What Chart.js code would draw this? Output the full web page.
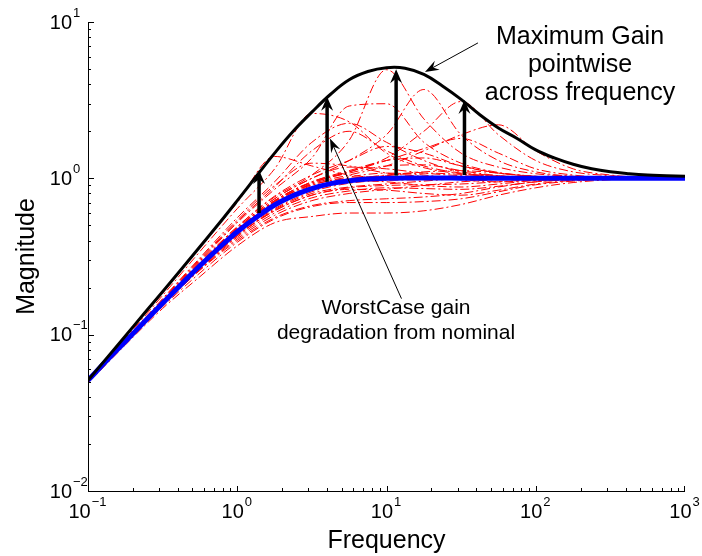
<!DOCTYPE html>
<html>
<head>
<meta charset="utf-8">
<script src="https://cdn.jsdelivr.net/npm/chart.js@4.4.1/dist/chart.umd.min.js"></script>
<style>
  html, body { margin: 0; padding: 0; background: #fff; }
  canvas { display: block; }
</style>
</head>
<body>
<canvas id="chartGain" width="702" height="556"></canvas>
<script>
// ============= DATA =============
// fine grid (1/8 decade) for the two thick curves
const freqFine = [0.1, 0.133, 0.178, 0.237, 0.316, 0.422, 0.562, 0.75, 1, 1.33, 1.78, 2.37, 3.16, 4.22, 5.62, 7.5,
  10, 13.3, 17.8, 23.7, 31.6, 42.2, 56.2, 75, 100, 133, 178, 237, 316, 422, 562, 750, 1000];
const maxGain = [0.051, 0.0705, 0.098, 0.136, 0.188, 0.262, 0.365, 0.51, 0.72, 1.02, 1.45, 2.0, 2.65, 3.45, 4.27, 4.82,
  5.1, 5.06, 4.62, 3.9, 3.2, 2.55, 2.1, 1.8, 1.52, 1.35, 1.23, 1.15, 1.1, 1.07, 1.05, 1.04, 1.03];
const nominal = [0.051, 0.068, 0.0905, 0.12, 0.159, 0.21, 0.276, 0.357, 0.455, 0.56, 0.675, 0.775, 0.86, 0.925, 0.965, 0.99,
  1.0, 1.005, 1.005, 1.005, 1.003, 1.0, 1.0, 1.0, 1.0, 1.0, 1.0, 1.0, 1.0, 1.0, 1.0, 1.0, 1.0];

// coarse grid (1/4 decade) for the sampled responses
const freqCoarse = [0.1, 0.178, 0.316, 0.562, 1, 1.78, 3.16, 5.62, 10, 17.8, 31.6, 56.2, 100, 178, 316, 562, 1000];
const samples = [
  [0.051, 0.092, 0.165, 0.29, 0.49, 0.76, 1.05, 1.75, 4.95, 2.4, 1.45, 1.18, 1.07, 1.03, 1.01, 1.0, 1.0],
  [0.052, 0.095, 0.178, 0.34, 0.64, 1.15, 2.6, 2.3, 1.45, 1.17, 1.07, 1.03, 1.01, 1.0, 1.0, 1.0, 1.0],
  [0.051, 0.091, 0.162, 0.28, 0.47, 0.71, 0.93, 1.1, 1.35, 2.0, 3.1, 1.9, 1.3, 1.1, 1.04, 1.01, 1.0],
  [0.052, 0.097, 0.185, 0.36, 0.7, 1.38, 1.2, 1.05, 1.01, 1.0, 1.0, 1.0, 1.0, 1.0, 1.0, 1.0, 1.0],
  [0.051, 0.092, 0.165, 0.295, 0.52, 0.85, 1.35, 2.9, 3.0, 1.7, 1.25, 1.09, 1.03, 1.01, 1.0, 1.0, 1.0],
  [0.051, 0.091, 0.162, 0.285, 0.48, 0.74, 1.0, 1.3, 1.9, 3.7, 1.9, 1.3, 1.1, 1.03, 1.01, 1.0, 1.0],
  [0.051, 0.092, 0.166, 0.3, 0.53, 0.88, 1.5, 2.0, 1.5, 1.2, 1.08, 1.03, 1.01, 1.0, 1.0, 1.0, 1.0],
  [0.051, 0.09, 0.16, 0.278, 0.465, 0.7, 0.92, 1.05, 1.2, 1.5, 1.9, 2.2, 1.5, 1.15, 1.05, 1.01, 1.0],
  [0.051, 0.091, 0.163, 0.288, 0.49, 0.77, 1.05, 1.3, 1.6, 1.45, 1.2, 1.08, 1.03, 1.01, 1.0, 1.0, 1.0],
  [0.051, 0.09, 0.16, 0.28, 0.47, 0.72, 0.95, 1.12, 1.3, 1.35, 1.2, 1.08, 1.03, 1.01, 1.0, 1.0, 1.0],
  [0.051, 0.091, 0.162, 0.284, 0.48, 0.74, 1.0, 1.18, 1.15, 1.08, 1.04, 1.02, 1.01, 1.0, 1.0, 1.0, 1.0],
  [0.051, 0.09, 0.158, 0.272, 0.45, 0.67, 0.86, 0.98, 1.05, 1.1, 1.12, 1.08, 1.03, 1.01, 1.0, 1.0, 1.0],
  [0.05, 0.089, 0.155, 0.26, 0.41, 0.58, 0.72, 0.8, 0.85, 0.9, 0.95, 0.98, 0.99, 1.0, 1.0, 1.0, 1.0],
  [0.049, 0.086, 0.147, 0.235, 0.37, 0.52, 0.57, 0.6, 0.6, 0.62, 0.68, 0.78, 0.87, 0.94, 0.98, 1.0, 1.0],
  [0.05, 0.089, 0.154, 0.258, 0.4, 0.56, 0.67, 0.72, 0.74, 0.76, 0.8, 0.88, 0.95, 0.98, 0.99, 1.0, 1.0],
  [0.051, 0.09, 0.157, 0.268, 0.43, 0.62, 0.78, 0.87, 0.9, 0.91, 0.92, 0.95, 0.98, 0.99, 1.0, 1.0, 1.0],
  [0.051, 0.09, 0.157, 0.27, 0.44, 0.64, 0.82, 0.93, 0.97, 0.98, 0.99, 0.99, 1.0, 1.0, 1.0, 1.0, 1.0],
  [0.05, 0.089, 0.155, 0.262, 0.42, 0.6, 0.75, 0.83, 0.87, 0.86, 0.85, 0.89, 0.95, 0.98, 1.0, 1.0, 1.0],
  [0.051, 0.091, 0.16, 0.276, 0.46, 0.69, 0.88, 0.97, 0.95, 0.9, 0.88, 0.92, 0.97, 0.99, 1.0, 1.0, 1.0],
  [0.051, 0.09, 0.159, 0.275, 0.455, 0.69, 0.9, 1.02, 1.08, 1.05, 0.98, 0.95, 0.97, 0.99, 1.0, 1.0, 1.0],
  [0.05, 0.089, 0.156, 0.265, 0.43, 0.63, 0.8, 0.88, 0.92, 0.96, 1.0, 1.03, 1.02, 1.01, 1.0, 1.0, 1.0],
  [0.051, 0.091, 0.161, 0.28, 0.47, 0.72, 0.94, 1.08, 1.2, 1.22, 1.12, 1.04, 1.01, 1.0, 1.0, 1.0, 1.0],
  [0.051, 0.093, 0.17, 0.31, 0.56, 0.95, 1.7, 2.25, 1.7, 1.3, 1.1, 1.04, 1.01, 1.0, 1.0, 1.0, 1.0],
  [0.051, 0.09, 0.16, 0.279, 0.47, 0.72, 0.95, 1.1, 1.3, 1.55, 1.8, 1.45, 1.15, 1.05, 1.01, 1.0, 1.0],
  [0.05, 0.088, 0.151, 0.248, 0.39, 0.55, 0.66, 0.7, 0.7, 0.71, 0.74, 0.82, 0.91, 0.96, 0.99, 1.0, 1.0],
  [0.05, 0.089, 0.156, 0.266, 0.43, 0.62, 0.78, 0.85, 0.84, 0.8, 0.78, 0.84, 0.92, 0.97, 0.99, 1.0, 1.0],
  [0.051, 0.091, 0.161, 0.281, 0.47, 0.71, 0.91, 1.0, 1.04, 1.08, 1.06, 1.02, 1.0, 1.0, 1.0, 1.0, 1.0],
  [0.051, 0.092, 0.168, 0.305, 0.54, 0.9, 1.25, 1.2, 1.08, 1.03, 1.01, 1.0, 1.0, 1.0, 1.0, 1.0, 1.0]
];

// vertical arrows nominal -> max gain
const arrowFreq = [1.4, 4.0, 11.6, 33.3];
const arrowLow = [0.6, 0.95, 1.04, 1.05];
const arrowHigh = [1.13, 3.32, 4.98, 3.17];

// thin pointer arrows [fromFreq, fromMag, toFreq, toMag]
const pointerMax = [41, 7.35, 18.1, 4.79];
const pointerWorst = [12.6, 0.17, 4.18, 1.8];

const xMajor = [0.1, 1, 10, 100, 1000];
const xExp = ['\u22121', '0', '1', '2', '3'];
const yMajor = [0.01, 0.1, 1, 10];
const yExp = ['\u22122', '\u22121', '0', '1'];

const FONT = '"Liberation Sans", Arial, Helvetica, sans-serif';

// ============= HELPERS =============
function pts(xs, ys) { return xs.map((x, i) => ({ x, y: ys[i] })); }

function arrowHead(ctx, x1, y1, x2, y2, len, half) {
  const a = Math.atan2(y2 - y1, x2 - x1);
  const c = Math.cos(a), s = Math.sin(a);
  const bx = x2 - len * c, by = y2 - len * s;
  const notch = len * 0.35;
  ctx.beginPath();
  ctx.moveTo(x2, y2);
  ctx.lineTo(bx - s * half, by + c * half);
  ctx.lineTo(bx + notch * c, by + notch * s);
  ctx.lineTo(bx + s * half, by - c * half);
  ctx.closePath();
  ctx.fill();
}

function drawArrow(ctx, x1, y1, x2, y2, width, len, half) {
  const a = Math.atan2(y2 - y1, x2 - x1);
  ctx.lineWidth = width;
  ctx.beginPath();
  ctx.moveTo(x1, y1);
  ctx.lineTo(x2 - Math.cos(a) * len * 0.6, y2 - Math.sin(a) * len * 0.6);
  ctx.stroke();
  arrowHead(ctx, x1, y1, x2, y2, len, half);
}

function pow10(ctx, exp, x, y, axis) {
  ctx.font = '20px ' + FONT;
  const w1 = ctx.measureText('10').width;
  ctx.font = '13px ' + FONT;
  const w2 = ctx.measureText(exp).width;
  let x0;
  if (axis === 'y') x0 = x - w1;
  else x0 = x - (w1 + w2) / 2 - 1;
  ctx.textAlign = 'left';
  ctx.textBaseline = 'middle';
  ctx.font = '20px ' + FONT;
  ctx.fillText('10', x0, y);
  ctx.font = '13px ' + FONT;
  ctx.fillText(exp, x0 + w1 + 1, y - 10);
}

// ============= OVERLAY: axes, arrows, text =============
const overlay = {
  id: 'overlay',
  afterDraw(chart) {
    const ctx = chart.ctx;
    const xs = chart.scales.x, ys = chart.scales.y;
    const a = chart.chartArea;
    ctx.save();
    ctx.fillStyle = '#000';
    ctx.strokeStyle = '#000';

    // thick arrows
    arrowFreq.forEach((f, i) => {
      const px = xs.getPixelForValue(f);
      drawArrow(ctx, px, ys.getPixelForValue(arrowLow[i]), px, ys.getPixelForValue(arrowHigh[i]), 3.5, 14, 6);
    });

    // thin pointer arrows
    [pointerMax, pointerWorst].forEach(p => {
      drawArrow(ctx, xs.getPixelForValue(p[0]), ys.getPixelForValue(p[1]),
        xs.getPixelForValue(p[2]), ys.getPixelForValue(p[3]), 1, 14, 5);
    });

    // axis lines
    ctx.lineWidth = 1;
    ctx.beginPath();
    ctx.moveTo(a.left + 0.5, a.top);
    ctx.lineTo(a.left + 0.5, a.bottom + 0.5);
    ctx.lineTo(a.right, a.bottom + 0.5);
    ctx.stroke();

    // ticks (inward)
    ctx.beginPath();
    for (let d = -1; d < 3; d++) {
      for (let m = 1; m < 10; m++) {
        const v = m * Math.pow(10, d);
        const px = Math.round(xs.getPixelForValue(v)) + 0.5;
        const len = m === 1 ? 5 : 3;
        ctx.moveTo(px, a.bottom);
        ctx.lineTo(px, a.bottom - len);
      }
    }
    const rx = Math.round(xs.getPixelForValue(1000)) - 0.5;
    ctx.moveTo(rx, a.bottom); ctx.lineTo(rx, a.bottom - 5);
    for (let d = -2; d < 1; d++) {
      for (let m = 1; m < 10; m++) {
        const v = m * Math.pow(10, d);
        const py = Math.round(ys.getPixelForValue(v)) + 0.5;
        const len = m === 1 ? 6 : 3;
        ctx.moveTo(a.left, py);
        ctx.lineTo(a.left + len, py);
      }
    }
    const ty = Math.round(ys.getPixelForValue(10)) + 0.5;
    ctx.moveTo(a.left, ty); ctx.lineTo(a.left + 6, ty);
    ctx.stroke();

    // tick labels
    xMajor.forEach((v, i) => pow10(ctx, xExp[i], xs.getPixelForValue(v), a.bottom + 21, 'x'));
    yMajor.forEach((v, i) => pow10(ctx, yExp[i], a.left - 16, ys.getPixelForValue(v) + 1, 'y'));

    // axis titles
    ctx.textAlign = 'center';
    ctx.textBaseline = 'alphabetic';
    ctx.font = '25px ' + FONT;
    ctx.fillText('Frequency', (a.left + a.right) / 2, 548);
    ctx.save();
    ctx.translate(34, (a.top + a.bottom) / 2);
    ctx.rotate(-Math.PI / 2);
    ctx.fillText('Magnitude', 0, 0);
    ctx.restore();

    // annotations
    ctx.textBaseline = 'middle';
    ctx.font = '25px ' + FONT;
    ctx.fillText('Maximum Gain', 580, 37);
    ctx.fillText('pointwise', 580, 65);
    ctx.fillText('across frequency', 580, 93);
    ctx.font = '21px ' + FONT;
    ctx.fillText('WorstCase gain', 396, 308);
    ctx.fillText('degradation from nominal', 396, 333);

    ctx.restore();
  }
};

// ============= CHART =============
const redSets = samples.map((s, i) => ({
  label: 'sample ' + (i + 1),
  data: pts(freqCoarse, s),
  borderColor: '#ff0000',
  borderWidth: 1,
  borderDash: [9, 3, 2, 3],
  pointRadius: 0,
  fill: false,
  cubicInterpolationMode: 'monotone',
  order: 3
}));

new Chart(document.getElementById('chartGain'), {
  type: 'line',
  data: {
    datasets: [
      {
        label: 'Maximum gain',
        data: pts(freqFine, maxGain),
        borderColor: '#000000',
        borderWidth: 3,
        pointRadius: 0,
        fill: false,
        tension: 0.4,
        order: 1
      },
      {
        label: 'Nominal',
        data: pts(freqFine, nominal),
        borderColor: '#0000ff',
        borderWidth: 5,
        pointRadius: 0,
        fill: false,
        tension: 0.4,
        order: 2
      },
      ...redSets
    ]
  },
  options: {
    responsive: false,
    animation: false,
    layout: { padding: { top: 22, right: 17, left: 0, bottom: 0 } },
    plugins: { legend: { display: false }, tooltip: { enabled: false } },
    scales: {
      x: {
        type: 'logarithmic', min: 0.1, max: 1000,
        ticks: { display: false }, grid: { display: false }, border: { display: false },
        afterFit: s => { s.height = 65; }
      },
      y: {
        type: 'logarithmic', min: 0.01, max: 10,
        ticks: { display: false }, grid: { display: false }, border: { display: false },
        afterFit: s => { s.width = 88; }
      }
    }
  },
  plugins: [overlay]
});
</script>
</body>
</html>
